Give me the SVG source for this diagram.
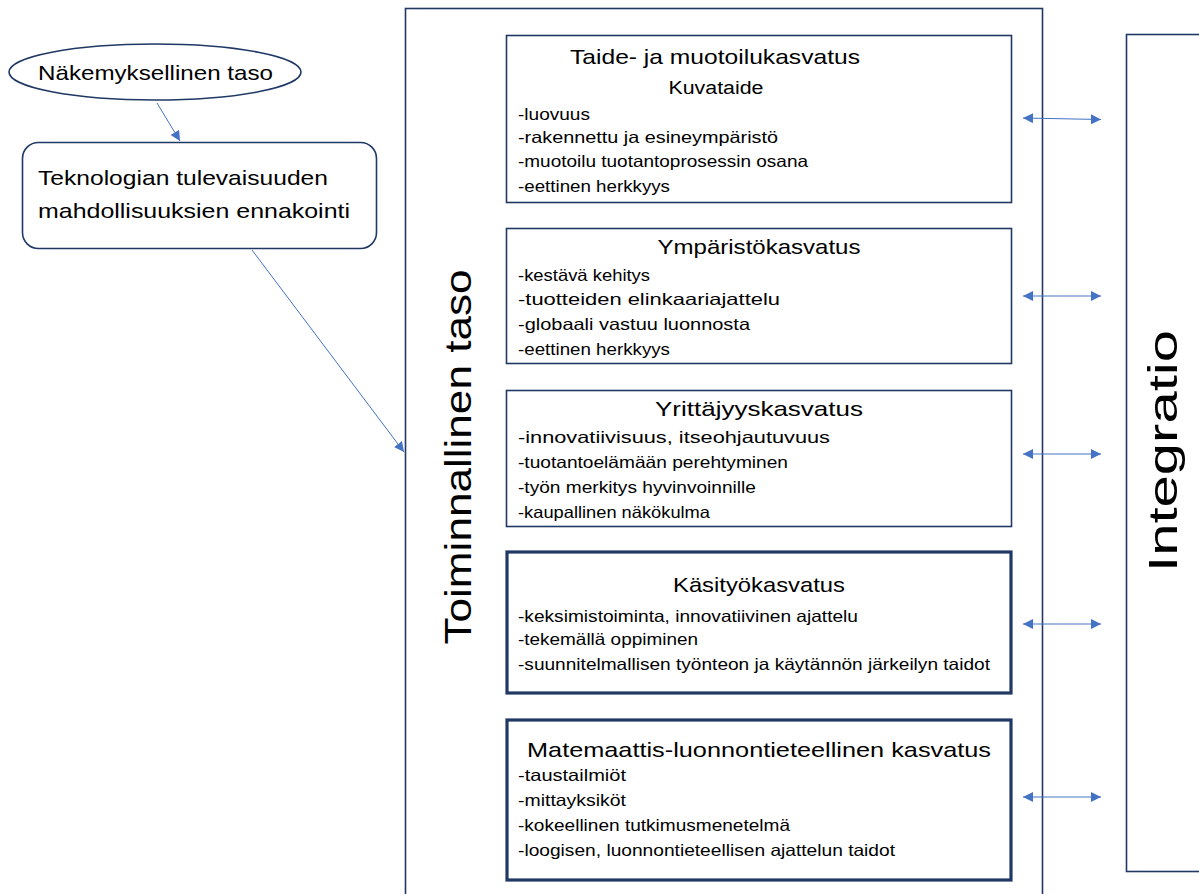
<svg xmlns="http://www.w3.org/2000/svg" width="1199" height="894" viewBox="0 0 1199 894">
<defs>
<style>
.t{font-family:"Liberation Sans",Arial,sans-serif;fill:#000}
.it{font-size:16.5px}
.hd{font-size:21px;text-anchor:middle}
.box{fill:#fff;stroke:#1f3864;stroke-width:1.6}
.boxb{fill:#fff;stroke:#1f3864;stroke-width:3.2}
.con{stroke:#4472c4;stroke-width:1;fill:none}
</style>
<marker id="ah" viewBox="0 0 10 10" refX="10" refY="5" markerWidth="10" markerHeight="10" markerUnits="userSpaceOnUse" orient="auto-start-reverse">
<path d="M0,0 L10,5 L0,10 z" fill="#4472c4"/>
</marker>
</defs>
<rect width="1199" height="894" fill="#fff"/>

<g id="frame">
<rect x="405.5" y="8.5" width="637" height="900" class="box"/>
<text class="t" font-size="37" text-anchor="middle" transform="translate(471,457) rotate(-90)" textLength="375" lengthAdjust="spacingAndGlyphs">Toiminnallinen taso</text>
</g>

<g id="integratio">
<rect x="1126.5" y="34.5" width="100" height="837" class="box"/>
<text class="t" font-size="40" text-anchor="middle" transform="translate(1177,451) rotate(-90)" textLength="242" lengthAdjust="spacingAndGlyphs">Integratio</text>
</g>

<g id="nakemys">
<ellipse cx="155" cy="72" rx="146" ry="28" class="box"/>
<text class="t" x="38" y="80" font-size="21" textLength="235" lengthAdjust="spacingAndGlyphs">Näkemyksellinen taso</text>
</g>

<g id="teknologia">
<rect x="22.5" y="142.5" width="354" height="106" rx="16" class="box"/>
<text class="t" x="38" y="185" font-size="21" textLength="290" lengthAdjust="spacingAndGlyphs">Teknologian tulevaisuuden</text>
<text class="t" x="38" y="218" font-size="21" textLength="312" lengthAdjust="spacingAndGlyphs">mahdollisuuksien ennakointi</text>
</g>

<g id="taide">
<rect x="506.5" y="35.5" width="505" height="167" class="box"/>
<text class="t hd" x="715" y="64" textLength="290" lengthAdjust="spacingAndGlyphs">Taide- ja muotoilukasvatus</text>
<text class="t" x="716" y="94" font-size="18" text-anchor="middle" textLength="95" lengthAdjust="spacingAndGlyphs">Kuvataide</text>
<text class="t it" x="518" y="120" textLength="72" lengthAdjust="spacingAndGlyphs">-luovuus</text>
<text class="t it" x="518" y="143" textLength="260" lengthAdjust="spacingAndGlyphs">-rakennettu ja esineympäristö</text>
<text class="t it" x="518" y="167" textLength="290" lengthAdjust="spacingAndGlyphs">-muotoilu tuotantoprosessin osana</text>
<text class="t it" x="518" y="192" textLength="152" lengthAdjust="spacingAndGlyphs">-eettinen herkkyys</text>
</g>

<g id="ymparisto">
<rect x="506.5" y="228.5" width="505" height="135" class="box"/>
<text class="t hd" x="759" y="254" textLength="203" lengthAdjust="spacingAndGlyphs">Ympäristökasvatus</text>
<text class="t it" x="518" y="281" textLength="132" lengthAdjust="spacingAndGlyphs">-kestävä kehitys</text>
<text class="t it" x="518" y="305" textLength="262" lengthAdjust="spacingAndGlyphs">-tuotteiden elinkaariajattelu</text>
<text class="t it" x="518" y="330" textLength="232" lengthAdjust="spacingAndGlyphs">-globaali vastuu luonnosta</text>
<text class="t it" x="518" y="355" textLength="152" lengthAdjust="spacingAndGlyphs">-eettinen herkkyys</text>
</g>

<g id="yrittajyys">
<rect x="506.5" y="390.5" width="505" height="136" class="box"/>
<text class="t hd" x="759" y="416" textLength="208" lengthAdjust="spacingAndGlyphs">Yrittäjyyskasvatus</text>
<text class="t it" x="518" y="443" textLength="312" lengthAdjust="spacingAndGlyphs">-innovatiivisuus, itseohjautuvuus</text>
<text class="t it" x="518" y="468" textLength="270" lengthAdjust="spacingAndGlyphs">-tuotantoelämään perehtyminen</text>
<text class="t it" x="518" y="493" textLength="238" lengthAdjust="spacingAndGlyphs">-työn merkitys hyvinvoinnille</text>
<text class="t it" x="518" y="518" textLength="192" lengthAdjust="spacingAndGlyphs">-kaupallinen näkökulma</text>
</g>

<g id="kasityo">
<rect x="507" y="552" width="504" height="141" class="boxb"/>
<text class="t hd" x="759" y="592" textLength="172" lengthAdjust="spacingAndGlyphs">Käsityökasvatus</text>
<text class="t it" x="518" y="622" textLength="340" lengthAdjust="spacingAndGlyphs">-keksimistoiminta, innovatiivinen ajattelu</text>
<text class="t it" x="518" y="645" textLength="180" lengthAdjust="spacingAndGlyphs">-tekemällä oppiminen</text>
<text class="t it" x="518" y="670" textLength="472" lengthAdjust="spacingAndGlyphs">-suunnitelmallisen työnteon ja käytännön järkeilyn taidot</text>
</g>

<g id="matemaattis">
<rect x="507" y="720" width="504" height="160" class="boxb"/>
<text class="t hd" x="759" y="757" textLength="464" lengthAdjust="spacingAndGlyphs">Matemaattis-luonnontieteellinen kasvatus</text>
<text class="t it" x="518" y="781" textLength="108" lengthAdjust="spacingAndGlyphs">-taustailmiöt</text>
<text class="t it" x="518" y="806" textLength="108" lengthAdjust="spacingAndGlyphs">-mittayksiköt</text>
<text class="t it" x="518" y="831" textLength="272" lengthAdjust="spacingAndGlyphs">-kokeellinen tutkimusmenetelmä</text>
<text class="t it" x="518" y="856" textLength="377" lengthAdjust="spacingAndGlyphs">-loogisen, luonnontieteellisen ajattelun taidot</text>
</g>

<g id="connectors">
<line x1="157" y1="103" x2="180" y2="141" class="con" marker-end="url(#ah)"/>
<line x1="252" y1="250" x2="404" y2="452" class="con" marker-end="url(#ah)"/>
<line x1="1023" y1="118" x2="1101" y2="119.5" class="con" marker-start="url(#ah)" marker-end="url(#ah)"/>
<line x1="1023" y1="296" x2="1101" y2="296" class="con" marker-start="url(#ah)" marker-end="url(#ah)"/>
<line x1="1023" y1="454" x2="1101" y2="454" class="con" marker-start="url(#ah)" marker-end="url(#ah)"/>
<line x1="1023" y1="624" x2="1101" y2="624" class="con" marker-start="url(#ah)" marker-end="url(#ah)"/>
<line x1="1023" y1="797" x2="1101" y2="797" class="con" marker-start="url(#ah)" marker-end="url(#ah)"/>
</g>
</svg>
